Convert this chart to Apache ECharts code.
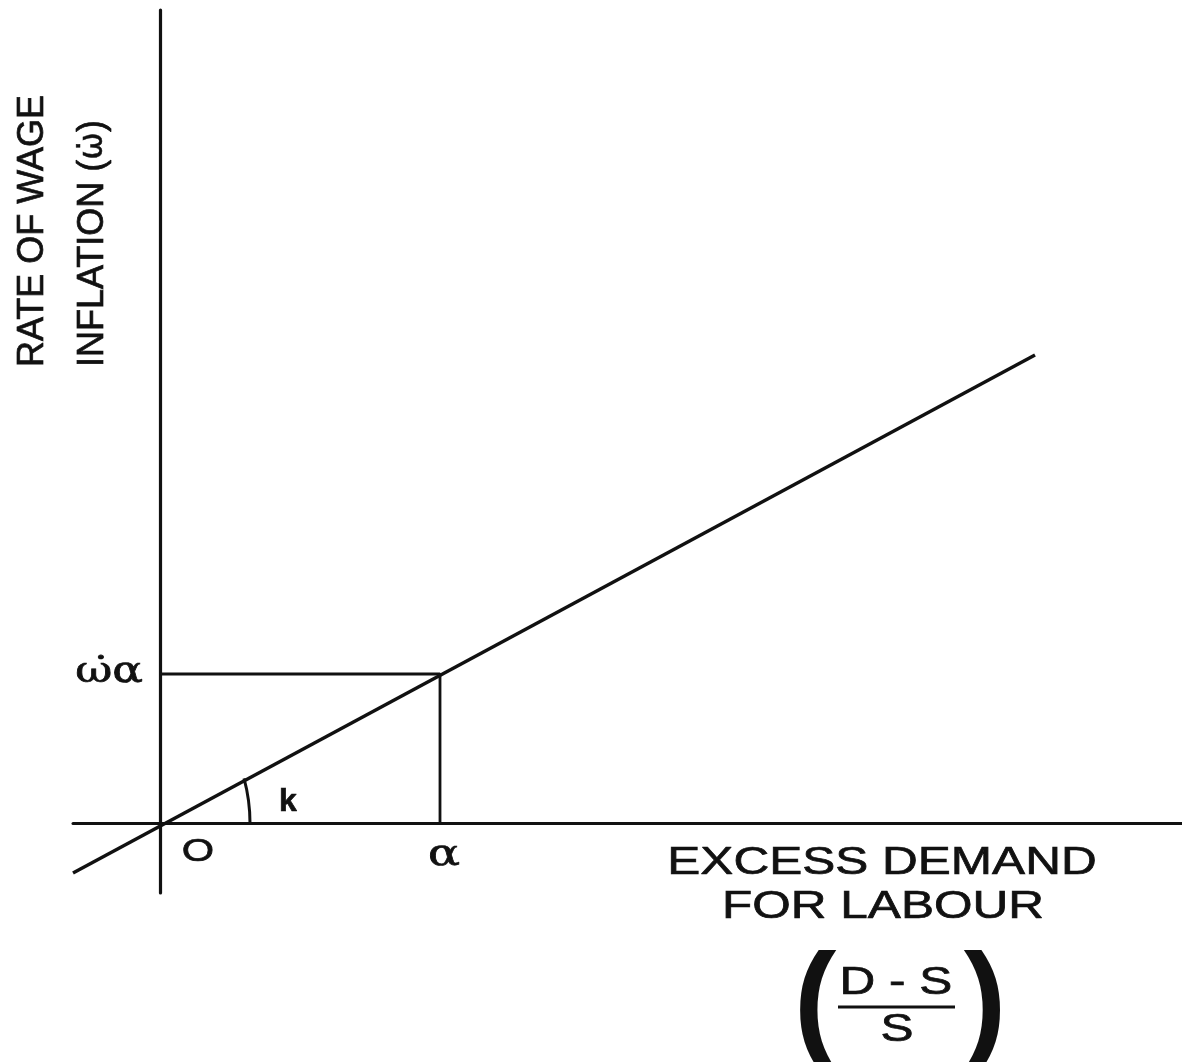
<!DOCTYPE html>
<html><head><meta charset="utf-8">
<script src="https://cdn.jsdelivr.net/npm/echarts@6/dist/echarts.min.js"></script>
<style>html,body{margin:0;padding:0;background:#fff}#c{width:1182px;height:1062px}</style>
</head><body><div id="c"></div>
<script>
// ---------- data (schematic units) ----------
const xRange = [-8.7, 102.2];
const yRange = [-7.0, 81.3];
const curveX = [-8.7, 87.5];
const curveY = [-5.0, 46.8];
const alphaX = 28.0;
const omegaAlphaY = 14.9;
const annotTexts = ['O', '\u03b1', '\u03c9\u0307\u03b1', 'k'];
const annotAnchorX = [0, alphaX, 0, 0];
const annotAnchorY = [0, 0, omegaAlphaY, 0];
const xTitleLines = ['EXCESS DEMAND', 'FOR LABOUR'];
const yTitleLines = ['RATE OF WAGE', 'INFLATION (\u03c9\u0307)'];
const fracNum = 'D - S';
const fracDen = 'S';

// ---------- styles ----------
const INK = '#111';
const SANS = '"Liberation Sans", Arial, sans-serif';
const DSERIF = '"DejaVu Serif", serif';
const annotStyle = [
  { dx: 38, dy: 29, size: 32, family: SANS, weight: 'normal', sx: 1.3, align: 'center' },
  { dx: 4, dy: 32, size: 38, family: DSERIF, weight: 'normal', sx: 1.25, align: 'center' },
  { dx: -17, dy: -1, size: 35, family: DSERIF, weight: 'normal', sx: 1.3, align: 'right' },
  { dx: 128, dy: -21, size: 32, family: SANS, weight: 'bold', sx: 1, align: 'center' }
];

const chart = echarts.init(document.getElementById('c'), null, { renderer: 'canvas' });

function txt(text, x, y, size, opts) {
  opts = opts || {};
  const st = {
    text: text, fontSize: size, fontFamily: opts.family || SANS,
    fontWeight: opts.weight || 'normal', fill: INK,
    stroke: INK, lineWidth: opts.lw === undefined ? 0.7 : opts.lw,
    align: opts.align || 'center', verticalAlign: 'middle'
  };
  if (opts.rich) st.rich = opts.rich;
  return { type: 'text', x: x, y: y, rotation: opts.rotation || 0, scaleX: opts.sx || 1, style: st };
}

// y title second line: the dotted omega drawn with a font that positions the combining dot
const yLine2Rich = '{a|' + yTitleLines[1].replace('\u03c9\u0307', '}{w|\u03c9\u0307}{a|') + '}';

const option = {
  backgroundColor: '#fff',
  animation: false,
  grid: { left: 73, right: 0, top: 10, bottom: 169 },
  xAxis: {
    type: 'value', min: xRange[0], max: xRange[1],
    axisLine: { show: true, onZero: true, lineStyle: { color: INK, width: 3 } },
    axisTick: { show: false }, axisLabel: { show: false }, splitLine: { show: false }
  },
  yAxis: {
    type: 'value', min: yRange[0], max: yRange[1],
    axisLine: { show: true, onZero: true, lineStyle: { color: INK, width: 3.2 } },
    axisTick: { show: false }, axisLabel: { show: false }, splitLine: { show: false }
  },
  series: [
    {
      name: 'curve', type: 'line', symbol: 'none',
      data: curveX.map((x, i) => [x, curveY[i]]),
      lineStyle: { color: INK, width: 3.5 }
    },
    {
      name: 'guides', type: 'line', symbol: 'none',
      data: [[0, omegaAlphaY], [alphaX, omegaAlphaY], [alphaX, 0]],
      lineStyle: { color: INK, width: 2.8 }
    },
    {
      name: 'angle', type: 'custom', silent: true,
      data: [[alphaX, omegaAlphaY]],
      renderItem: function (params, api) {
        const o = api.coord([0, 0]);
        const p = api.coord([api.value(0), api.value(1)]);
        const a = Math.atan2(o[1] - p[1], p[0] - o[0]);
        const off = 80, r = 170;
        const t = -off * Math.cos(a) + Math.sqrt(off * off * Math.cos(a) * Math.cos(a) + r * r - off * off);
        const end = Math.atan2(-t * Math.sin(a), t * Math.cos(a) + off);
        return {
          type: 'arc',
          shape: { cx: o[0] - off, cy: o[1], r: r, startAngle: end, endAngle: 0, clockwise: true },
          style: { stroke: INK, lineWidth: 3, fill: 'none' }
        };
      }
    },
    {
      name: 'annotations', type: 'custom', silent: true,
      data: annotTexts.map((t, i) => [annotAnchorX[i], annotAnchorY[i]]),
      renderItem: function (params, api) {
        const i = params.dataIndex;
        const c = api.coord([api.value(0), api.value(1)]);
        const s = annotStyle[i];
        return txt(annotTexts[i], c[0] + s.dx, c[1] + s.dy, s.size,
          { family: s.family, weight: s.weight, sx: s.sx, align: s.align });
      }
    }
  ],
  graphic: [
    txt(yTitleLines[0], 33, 367, 36, { rotation: Math.PI / 2, align: 'left' }),
    txt(yLine2Rich, 93, 367, 36, {
      rotation: Math.PI / 2, align: 'left',
      rich: {
        a: { fontSize: 36, fontFamily: SANS, fill: INK, stroke: INK, lineWidth: 0.7 },
        w: { fontSize: 33, fontFamily: '"DejaVu Sans", sans-serif', fill: INK, stroke: INK, lineWidth: 0.5 }
      }
    }),
    txt(xTitleLines[0], 882, 863, 39, { sx: 1.27 }),
    txt(xTitleLines[1], 883, 907, 39, { sx: 1.27 }),
    txt('(', 815, 1008, 128, { weight: 'bold', lw: 0 }),
    txt(')', 985, 1008, 128, { weight: 'bold', lw: 0 }),
    txt(fracNum, 896, 983, 39, { sx: 1.27 }),
    { type: 'line', shape: { x1: 838, y1: 1007, x2: 955, y2: 1007 }, style: { stroke: INK, lineWidth: 3 } },
    txt(fracDen, 897, 1030, 39, { sx: 1.27 })
  ]
};
chart.setOption(option);
</script>
</body></html>
